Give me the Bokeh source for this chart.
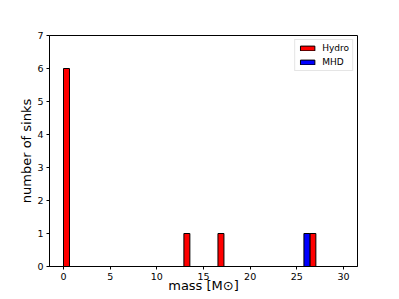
from bokeh.plotting import figure
from bokeh.models import Range1d, Legend, LegendItem, FixedTicker
from bokeh.embed import file_html
from bokeh.resources import INLINE

# Histogram bars (bin edges in solar masses, counts)
hydro_left = [0.0, 12.9, 16.55, 26.4]
hydro_right = [0.64, 13.54, 17.19, 27.04]
hydro_count = [6, 1, 1, 1]
mhd_left = [25.76]
mhd_right = [26.4]
mhd_count = [1]

x_ticks = [0, 5, 10, 15, 20, 25, 30]
y_ticks = [0, 1, 2, 3, 4, 5, 6, 7]

p = figure(frame_width=308, frame_height=231, output_backend="svg", toolbar_location=None,
           x_range=Range1d(-1.5, 31.5), y_range=Range1d(0, 7),
           min_border_left=49, min_border_right=26, min_border_top=35, min_border_bottom=20)
p.background_fill_color = "white"
p.border_fill_color = "white"
p.outline_line_color = "black"
p.outline_line_width = 1
p.xgrid.visible = False
p.ygrid.visible = False

# zero-height bins along the baseline
p.quad(left=[min(hydro_left)], right=[max(hydro_right)], bottom=[0], top=[0],
       fill_color=None, line_color="black", line_width=1.2)

r_h = p.quad(left=hydro_left, right=hydro_right, bottom=0, top=hydro_count,
             fill_color="#ff0000", line_color="black", line_width=1)
r_m = p.quad(left=mhd_left, right=mhd_right, bottom=0, top=mhd_count,
             fill_color="#0000ff", line_color="black", line_width=1)

for ax in (p.xaxis[0], p.yaxis[0]):
    ax.major_label_text_font = "DejaVu Sans"
    ax.major_label_text_font_size = "9.5px"
    ax.major_label_text_color = "black"
    ax.axis_label_text_font = "DejaVu Sans"
    ax.axis_label_text_font_size = "13px"
    ax.axis_label_text_font_style = "normal"
    ax.axis_label_text_color = "black"
    ax.minor_tick_line_color = None
    ax.major_tick_out = 3
    ax.major_tick_in = 0
    ax.axis_line_color = "black"
    ax.major_tick_line_color = "black"

p.xaxis.ticker = FixedTicker(ticks=x_ticks)
p.yaxis.ticker = FixedTicker(ticks=y_ticks)
p.xaxis.axis_label = "mass [M\u2299]"
p.yaxis.axis_label = "number of sinks"
p.xaxis.axis_label_standoff = -5
p.yaxis.axis_label_standoff = 0
p.xaxis.major_label_standoff = 3
p.yaxis.major_label_standoff = 3

legend = Legend(items=[LegendItem(label="Hydro", renderers=[r_h]),
                       LegendItem(label="MHD", renderers=[r_m])],
                location="top_right")
legend.label_text_font = "DejaVu Sans"
legend.label_text_font_size = "9px"
legend.label_text_color = "black"
legend.glyph_width = 18
legend.glyph_height = 6
legend.label_height = 10
legend.label_standoff = 6
legend.spacing = 4
legend.padding = 3
legend.margin = 4
legend.border_line_color = "#cccccc"
legend.border_line_width = 1
legend.background_fill_alpha = 0.8
p.add_layout(legend)

open("out.html", "w").write(file_html(p, INLINE))
